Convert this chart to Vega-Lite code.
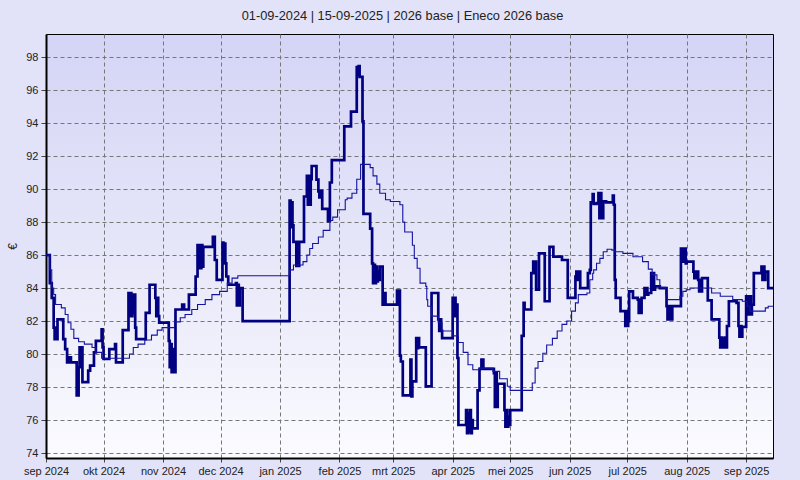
{
  "$schema": "https://vega.github.io/schema/vega-lite/v6.json",
  "width": 727,
  "height": 424,
  "autosize": {"type": "none"},
  "padding": {"left": 46, "top": 34, "right": 27, "bottom": 22},
  "background": "#e2e2f8",
  "title": {
    "text": "01-09-2024 | 15-09-2025 | 2026 base | Eneco 2026 base",
    "font": "Liberation Sans",
    "fontSize": 12.8,
    "fontWeight": "normal",
    "color": "#222222",
    "anchor": "middle",
    "offset": 11,
    "dx": -7
  },
  "datasets": {
    "daily": [
      {"d": "2024-09-01T00:00", "v": 86.0},
      {"d": "2024-09-03T00:00", "v": 84.3},
      {"d": "2024-09-04T00:00", "v": 83.4},
      {"d": "2024-09-05T00:00", "v": 81.6},
      {"d": "2024-09-05T12:00", "v": 80.9},
      {"d": "2024-09-06T00:00", "v": 81.6},
      {"d": "2024-09-06T12:00", "v": 80.9},
      {"d": "2024-09-07T00:00", "v": 82.1},
      {"d": "2024-09-10T00:00", "v": 80.9},
      {"d": "2024-09-11T00:00", "v": 80.3},
      {"d": "2024-09-12T00:00", "v": 79.5},
      {"d": "2024-09-13T00:00", "v": 79.8},
      {"d": "2024-09-14T00:00", "v": 79.5},
      {"d": "2024-09-17T00:00", "v": 77.5},
      {"d": "2024-09-18T00:00", "v": 79.2},
      {"d": "2024-09-18T12:00", "v": 80.4},
      {"d": "2024-09-19T00:00", "v": 79.2},
      {"d": "2024-09-19T12:00", "v": 80.4},
      {"d": "2024-09-20T00:00", "v": 78.3},
      {"d": "2024-09-23T00:00", "v": 79.0},
      {"d": "2024-09-24T00:00", "v": 79.3},
      {"d": "2024-09-26T00:00", "v": 80.1},
      {"d": "2024-09-27T00:00", "v": 80.8},
      {"d": "2024-09-30T00:00", "v": 81.5},
      {"d": "2024-09-30T12:00", "v": 80.4},
      {"d": "2024-10-01T00:00", "v": 79.7},
      {"d": "2024-10-04T00:00", "v": 80.3},
      {"d": "2024-10-07T00:00", "v": 80.6},
      {"d": "2024-10-07T12:00", "v": 79.5},
      {"d": "2024-10-11T00:00", "v": 81.45},
      {"d": "2024-10-14T00:00", "v": 83.7},
      {"d": "2024-10-14T12:00", "v": 82.3},
      {"d": "2024-10-15T00:00", "v": 83.7},
      {"d": "2024-10-15T12:00", "v": 82.3},
      {"d": "2024-10-16T00:00", "v": 83.6},
      {"d": "2024-10-16T12:00", "v": 82.5},
      {"d": "2024-10-17T00:00", "v": 83.6},
      {"d": "2024-10-17T12:00", "v": 81.6},
      {"d": "2024-10-18T00:00", "v": 80.9},
      {"d": "2024-10-23T00:00", "v": 82.5},
      {"d": "2024-10-25T00:00", "v": 84.2},
      {"d": "2024-10-28T00:00", "v": 83.4},
      {"d": "2024-10-28T12:00", "v": 82.3},
      {"d": "2024-10-29T00:00", "v": 83.4},
      {"d": "2024-10-29T12:00", "v": 82.3},
      {"d": "2024-10-30T00:00", "v": 81.9},
      {"d": "2024-11-04T00:00", "v": 80.8},
      {"d": "2024-11-04T12:00", "v": 79.2},
      {"d": "2024-11-05T00:00", "v": 80.6},
      {"d": "2024-11-05T12:00", "v": 78.9},
      {"d": "2024-11-06T00:00", "v": 80.3},
      {"d": "2024-11-06T12:00", "v": 78.9},
      {"d": "2024-11-07T12:00", "v": 82.7},
      {"d": "2024-11-11T00:00", "v": 83.0},
      {"d": "2024-11-12T00:00", "v": 82.7},
      {"d": "2024-11-14T12:00", "v": 83.6},
      {"d": "2024-11-18T00:00", "v": 84.7},
      {"d": "2024-11-19T00:00", "v": 86.6},
      {"d": "2024-11-19T12:00", "v": 85.2},
      {"d": "2024-11-20T00:00", "v": 86.6},
      {"d": "2024-11-20T12:00", "v": 85.2},
      {"d": "2024-11-21T00:00", "v": 86.6},
      {"d": "2024-11-21T12:00", "v": 85.3},
      {"d": "2024-11-22T00:00", "v": 86.5},
      {"d": "2024-11-27T00:00", "v": 87.1},
      {"d": "2024-11-28T00:00", "v": 85.7},
      {"d": "2024-11-29T00:00", "v": 84.5},
      {"d": "2024-12-02T00:00", "v": 86.75},
      {"d": "2024-12-02T12:00", "v": 85.5},
      {"d": "2024-12-03T00:00", "v": 86.7},
      {"d": "2024-12-03T12:00", "v": 85.5},
      {"d": "2024-12-04T00:00", "v": 84.7},
      {"d": "2024-12-05T00:00", "v": 84.2},
      {"d": "2024-12-09T00:00", "v": 84.3},
      {"d": "2024-12-09T12:00", "v": 82.95},
      {"d": "2024-12-10T00:00", "v": 84.2},
      {"d": "2024-12-10T12:00", "v": 82.95},
      {"d": "2024-12-11T00:00", "v": 84.0},
      {"d": "2024-12-12T12:00", "v": 82.0},
      {"d": "2025-01-06T00:00", "v": 89.3},
      {"d": "2025-01-06T12:00", "v": 87.7},
      {"d": "2025-01-07T00:00", "v": 89.2},
      {"d": "2025-01-07T12:00", "v": 87.8},
      {"d": "2025-01-08T00:00", "v": 86.8},
      {"d": "2025-01-09T12:00", "v": 85.35},
      {"d": "2025-01-10T00:00", "v": 86.8},
      {"d": "2025-01-10T12:00", "v": 85.35},
      {"d": "2025-01-11T00:00", "v": 86.8},
      {"d": "2025-01-13T12:00", "v": 89.55},
      {"d": "2025-01-15T00:00", "v": 90.8},
      {"d": "2025-01-15T12:00", "v": 89.05},
      {"d": "2025-01-16T00:00", "v": 90.8},
      {"d": "2025-01-16T12:00", "v": 89.05},
      {"d": "2025-01-17T00:00", "v": 90.6},
      {"d": "2025-01-17T12:00", "v": 91.4},
      {"d": "2025-01-20T00:00", "v": 90.57},
      {"d": "2025-01-21T00:00", "v": 89.86},
      {"d": "2025-01-21T12:00", "v": 89.5},
      {"d": "2025-01-22T00:00", "v": 89.9},
      {"d": "2025-01-23T00:00", "v": 88.8},
      {"d": "2025-01-26T00:00", "v": 88.05},
      {"d": "2025-01-27T00:00", "v": 90.4},
      {"d": "2025-01-28T00:00", "v": 91.75},
      {"d": "2025-02-03T12:00", "v": 93.8},
      {"d": "2025-02-07T00:00", "v": 94.7},
      {"d": "2025-02-10T00:00", "v": 97.4},
      {"d": "2025-02-10T12:00", "v": 96.9},
      {"d": "2025-02-11T00:00", "v": 97.45},
      {"d": "2025-02-11T12:00", "v": 96.8},
      {"d": "2025-02-13T00:00", "v": 94.1},
      {"d": "2025-02-13T12:00", "v": 88.5},
      {"d": "2025-02-17T00:00", "v": 87.6},
      {"d": "2025-02-18T00:00", "v": 85.5},
      {"d": "2025-02-18T12:00", "v": 84.3},
      {"d": "2025-02-19T00:00", "v": 85.4},
      {"d": "2025-02-19T12:00", "v": 84.3},
      {"d": "2025-02-20T00:00", "v": 85.3},
      {"d": "2025-02-20T12:00", "v": 84.4},
      {"d": "2025-02-21T00:00", "v": 85.0},
      {"d": "2025-02-21T12:00", "v": 84.5},
      {"d": "2025-02-22T00:00", "v": 85.3},
      {"d": "2025-02-23T12:00", "v": 83.0},
      {"d": "2025-02-24T12:00", "v": 83.7},
      {"d": "2025-02-25T00:00", "v": 83.0},
      {"d": "2025-03-03T00:00", "v": 83.85},
      {"d": "2025-03-03T12:00", "v": 83.0},
      {"d": "2025-03-04T00:00", "v": 83.85},
      {"d": "2025-03-04T12:00", "v": 79.9},
      {"d": "2025-03-05T00:00", "v": 79.55},
      {"d": "2025-03-06T00:00", "v": 77.5},
      {"d": "2025-03-10T00:00", "v": 79.66},
      {"d": "2025-03-10T12:00", "v": 77.43},
      {"d": "2025-03-11T00:00", "v": 78.34},
      {"d": "2025-03-13T00:00", "v": 80.97},
      {"d": "2025-03-13T12:00", "v": 80.36},
      {"d": "2025-03-14T00:00", "v": 80.97},
      {"d": "2025-03-14T12:00", "v": 80.4},
      {"d": "2025-03-18T00:00", "v": 78.04},
      {"d": "2025-03-21T00:00", "v": 83.7},
      {"d": "2025-03-24T12:00", "v": 82.1},
      {"d": "2025-03-25T00:00", "v": 81.4},
      {"d": "2025-03-25T12:00", "v": 82.1},
      {"d": "2025-03-26T00:00", "v": 81.4},
      {"d": "2025-03-26T12:00", "v": 80.97},
      {"d": "2025-04-01T00:00", "v": 83.4},
      {"d": "2025-04-01T12:00", "v": 82.3},
      {"d": "2025-04-02T00:00", "v": 83.4},
      {"d": "2025-04-02T12:00", "v": 82.3},
      {"d": "2025-04-03T00:00", "v": 83.0},
      {"d": "2025-04-03T12:00", "v": 79.76},
      {"d": "2025-04-04T00:00", "v": 75.7},
      {"d": "2025-04-08T00:00", "v": 76.6},
      {"d": "2025-04-08T12:00", "v": 75.2},
      {"d": "2025-04-09T00:00", "v": 76.4},
      {"d": "2025-04-09T12:00", "v": 75.3},
      {"d": "2025-04-10T00:00", "v": 76.6},
      {"d": "2025-04-10T12:00", "v": 75.2},
      {"d": "2025-04-11T00:00", "v": 76.0},
      {"d": "2025-04-11T12:00", "v": 75.5},
      {"d": "2025-04-14T00:00", "v": 77.8},
      {"d": "2025-04-15T00:00", "v": 79.1},
      {"d": "2025-04-16T00:00", "v": 79.66},
      {"d": "2025-04-17T00:00", "v": 79.1},
      {"d": "2025-04-22T12:00", "v": 78.85},
      {"d": "2025-04-23T00:00", "v": 76.8},
      {"d": "2025-04-23T12:00", "v": 78.85},
      {"d": "2025-04-24T00:00", "v": 76.8},
      {"d": "2025-04-24T12:00", "v": 78.2},
      {"d": "2025-04-28T00:00", "v": 76.6},
      {"d": "2025-04-28T12:00", "v": 75.6},
      {"d": "2025-04-29T00:00", "v": 76.6},
      {"d": "2025-04-29T12:00", "v": 75.6},
      {"d": "2025-04-30T00:00", "v": 76.2},
      {"d": "2025-04-30T12:00", "v": 75.7},
      {"d": "2025-05-01T00:00", "v": 76.6},
      {"d": "2025-05-07T00:00", "v": 81.1},
      {"d": "2025-05-08T00:00", "v": 83.1},
      {"d": "2025-05-08T12:00", "v": 82.7},
      {"d": "2025-05-12T00:00", "v": 84.9},
      {"d": "2025-05-13T00:00", "v": 85.6},
      {"d": "2025-05-13T12:00", "v": 84.9},
      {"d": "2025-05-14T00:00", "v": 85.6},
      {"d": "2025-05-14T12:00", "v": 83.9},
      {"d": "2025-05-16T00:00", "v": 86.1},
      {"d": "2025-05-19T00:00", "v": 83.2},
      {"d": "2025-05-21T12:00", "v": 86.5},
      {"d": "2025-05-23T12:00", "v": 85.9},
      {"d": "2025-05-28T00:00", "v": 85.7},
      {"d": "2025-05-31T00:00", "v": 83.4},
      {"d": "2025-06-04T00:00", "v": 84.7},
      {"d": "2025-06-04T12:00", "v": 85.0},
      {"d": "2025-06-05T00:00", "v": 84.5},
      {"d": "2025-06-05T12:00", "v": 85.0},
      {"d": "2025-06-06T12:00", "v": 84.0},
      {"d": "2025-06-10T12:00", "v": 84.9},
      {"d": "2025-06-11T12:00", "v": 85.1},
      {"d": "2025-06-12T00:00", "v": 89.2},
      {"d": "2025-06-13T00:00", "v": 89.7},
      {"d": "2025-06-13T12:00", "v": 89.1},
      {"d": "2025-06-15T00:00", "v": 89.15},
      {"d": "2025-06-16T00:00", "v": 89.76},
      {"d": "2025-06-16T12:00", "v": 88.24},
      {"d": "2025-06-17T00:00", "v": 89.76},
      {"d": "2025-06-17T12:00", "v": 88.24},
      {"d": "2025-06-18T12:00", "v": 89.25},
      {"d": "2025-06-20T00:00", "v": 89.2},
      {"d": "2025-06-23T12:00", "v": 89.6},
      {"d": "2025-06-24T00:00", "v": 89.05},
      {"d": "2025-06-24T12:00", "v": 84.5},
      {"d": "2025-06-25T00:00", "v": 83.4},
      {"d": "2025-06-27T12:00", "v": 82.6},
      {"d": "2025-06-30T00:00", "v": 81.7},
      {"d": "2025-06-30T12:00", "v": 82.6},
      {"d": "2025-07-01T00:00", "v": 81.7},
      {"d": "2025-07-01T12:00", "v": 82.0},
      {"d": "2025-07-02T00:00", "v": 83.8},
      {"d": "2025-07-04T00:00", "v": 83.4},
      {"d": "2025-07-06T12:00", "v": 83.3},
      {"d": "2025-07-07T00:00", "v": 82.5},
      {"d": "2025-07-07T12:00", "v": 83.3},
      {"d": "2025-07-08T00:00", "v": 82.5},
      {"d": "2025-07-08T12:00", "v": 83.4},
      {"d": "2025-07-10T00:00", "v": 84.0},
      {"d": "2025-07-10T12:00", "v": 83.6},
      {"d": "2025-07-11T00:00", "v": 84.0},
      {"d": "2025-07-11T12:00", "v": 83.6},
      {"d": "2025-07-12T00:00", "v": 83.7},
      {"d": "2025-07-13T12:00", "v": 84.9},
      {"d": "2025-07-14T00:00", "v": 83.9},
      {"d": "2025-07-14T12:00", "v": 84.9},
      {"d": "2025-07-15T00:00", "v": 83.9},
      {"d": "2025-07-15T12:00", "v": 84.1},
      {"d": "2025-07-18T00:00", "v": 84.0},
      {"d": "2025-07-21T12:00", "v": 82.9},
      {"d": "2025-07-22T00:00", "v": 82.1},
      {"d": "2025-07-22T12:00", "v": 82.9},
      {"d": "2025-07-23T00:00", "v": 82.1},
      {"d": "2025-07-23T12:00", "v": 82.9},
      {"d": "2025-07-24T00:00", "v": 82.1},
      {"d": "2025-07-24T12:00", "v": 82.9},
      {"d": "2025-07-29T00:00", "v": 86.4},
      {"d": "2025-07-29T12:00", "v": 85.6},
      {"d": "2025-07-30T00:00", "v": 86.4},
      {"d": "2025-07-30T12:00", "v": 85.6},
      {"d": "2025-07-31T00:00", "v": 86.4},
      {"d": "2025-07-31T12:00", "v": 85.5},
      {"d": "2025-08-01T00:00", "v": 85.6},
      {"d": "2025-08-04T12:00", "v": 85.0},
      {"d": "2025-08-05T00:00", "v": 84.6},
      {"d": "2025-08-05T12:00", "v": 85.0},
      {"d": "2025-08-06T00:00", "v": 84.6},
      {"d": "2025-08-06T12:00", "v": 85.0},
      {"d": "2025-08-07T00:00", "v": 84.5},
      {"d": "2025-08-07T12:00", "v": 83.8},
      {"d": "2025-08-08T00:00", "v": 84.5},
      {"d": "2025-08-08T12:00", "v": 83.8},
      {"d": "2025-08-09T00:00", "v": 84.6},
      {"d": "2025-08-12T00:00", "v": 83.25},
      {"d": "2025-08-14T00:00", "v": 82.1},
      {"d": "2025-08-18T00:00", "v": 81.0},
      {"d": "2025-08-18T12:00", "v": 80.4},
      {"d": "2025-08-19T00:00", "v": 81.0},
      {"d": "2025-08-19T12:00", "v": 80.4},
      {"d": "2025-08-20T00:00", "v": 80.9},
      {"d": "2025-08-20T12:00", "v": 80.4},
      {"d": "2025-08-21T00:00", "v": 81.0},
      {"d": "2025-08-21T12:00", "v": 80.4},
      {"d": "2025-08-22T00:00", "v": 81.7},
      {"d": "2025-08-23T00:00", "v": 83.2},
      {"d": "2025-08-27T00:00", "v": 83.1},
      {"d": "2025-08-28T00:00", "v": 81.7},
      {"d": "2025-08-28T12:00", "v": 81.05},
      {"d": "2025-08-29T00:00", "v": 81.7},
      {"d": "2025-08-29T12:00", "v": 81.05},
      {"d": "2025-08-30T00:00", "v": 81.65},
      {"d": "2025-09-01T00:00", "v": 83.5},
      {"d": "2025-09-01T12:00", "v": 82.4},
      {"d": "2025-09-02T00:00", "v": 83.5},
      {"d": "2025-09-02T12:00", "v": 82.4},
      {"d": "2025-09-03T00:00", "v": 83.5},
      {"d": "2025-09-03T12:00", "v": 82.4},
      {"d": "2025-09-04T00:00", "v": 83.0},
      {"d": "2025-09-05T00:00", "v": 84.9},
      {"d": "2025-09-09T00:00", "v": 85.3},
      {"d": "2025-09-09T12:00", "v": 84.5},
      {"d": "2025-09-10T00:00", "v": 85.3},
      {"d": "2025-09-10T12:00", "v": 84.5},
      {"d": "2025-09-11T00:00", "v": 85.0},
      {"d": "2025-09-12T12:00", "v": 84.0},
      {"d": "2025-09-15T00:00", "v": 84.0}
    ],
    "avg": [
      {"d": "2024-09-01T00:00", "v": 86.0},
      {"d": "2024-09-03T00:00", "v": 85.1},
      {"d": "2024-09-04T00:00", "v": 84.0},
      {"d": "2024-09-05T00:00", "v": 83.6},
      {"d": "2024-09-06T00:00", "v": 83.0},
      {"d": "2024-09-09T00:00", "v": 82.8},
      {"d": "2024-09-11T00:00", "v": 82.4},
      {"d": "2024-09-12T12:00", "v": 81.9},
      {"d": "2024-09-14T00:00", "v": 81.5},
      {"d": "2024-09-15T12:00", "v": 80.95},
      {"d": "2024-09-18T00:00", "v": 80.75},
      {"d": "2024-09-21T00:00", "v": 80.6},
      {"d": "2024-09-25T00:00", "v": 80.4},
      {"d": "2024-09-27T00:00", "v": 80.1},
      {"d": "2024-09-30T00:00", "v": 79.75},
      {"d": "2024-10-14T12:00", "v": 80.0},
      {"d": "2024-10-16T12:00", "v": 80.4},
      {"d": "2024-10-19T00:00", "v": 80.6},
      {"d": "2024-10-22T12:00", "v": 80.85},
      {"d": "2024-10-26T00:00", "v": 81.15},
      {"d": "2024-10-29T00:00", "v": 81.45},
      {"d": "2024-10-31T12:00", "v": 81.6},
      {"d": "2024-11-07T00:00", "v": 81.95},
      {"d": "2024-11-10T00:00", "v": 82.2},
      {"d": "2024-11-12T12:00", "v": 82.4},
      {"d": "2024-11-16T00:00", "v": 82.7},
      {"d": "2024-11-19T00:00", "v": 83.0},
      {"d": "2024-11-23T00:00", "v": 83.3},
      {"d": "2024-11-26T12:00", "v": 83.6},
      {"d": "2024-11-30T12:00", "v": 83.8},
      {"d": "2024-12-04T12:00", "v": 84.3},
      {"d": "2024-12-07T00:00", "v": 84.6},
      {"d": "2024-12-10T00:00", "v": 84.75},
      {"d": "2025-01-06T00:00", "v": 85.1},
      {"d": "2025-01-08T00:00", "v": 85.4},
      {"d": "2025-01-13T00:00", "v": 85.6},
      {"d": "2025-01-15T00:00", "v": 86.0},
      {"d": "2025-01-16T12:00", "v": 86.4},
      {"d": "2025-01-18T00:00", "v": 86.7},
      {"d": "2025-01-21T00:00", "v": 87.1},
      {"d": "2025-01-23T12:00", "v": 87.5},
      {"d": "2025-01-27T00:00", "v": 88.1},
      {"d": "2025-01-28T12:00", "v": 88.3},
      {"d": "2025-01-31T00:00", "v": 88.75},
      {"d": "2025-02-04T00:00", "v": 89.35},
      {"d": "2025-02-05T00:00", "v": 89.45},
      {"d": "2025-02-07T12:00", "v": 89.75},
      {"d": "2025-02-10T00:00", "v": 90.6},
      {"d": "2025-02-12T00:00", "v": 91.5},
      {"d": "2025-02-17T00:00", "v": 91.3},
      {"d": "2025-02-18T12:00", "v": 90.8},
      {"d": "2025-02-20T12:00", "v": 90.3},
      {"d": "2025-02-22T00:00", "v": 89.75},
      {"d": "2025-02-25T00:00", "v": 89.35},
      {"d": "2025-02-27T12:00", "v": 89.25},
      {"d": "2025-03-04T12:00", "v": 89.05},
      {"d": "2025-03-06T00:00", "v": 88.0},
      {"d": "2025-03-07T00:00", "v": 87.4},
      {"d": "2025-03-11T00:00", "v": 86.6},
      {"d": "2025-03-12T00:00", "v": 85.8},
      {"d": "2025-03-13T12:00", "v": 85.2},
      {"d": "2025-03-15T00:00", "v": 84.3},
      {"d": "2025-03-18T00:00", "v": 84.1},
      {"d": "2025-03-18T12:00", "v": 83.3},
      {"d": "2025-03-19T00:00", "v": 82.9},
      {"d": "2025-03-21T00:00", "v": 82.3},
      {"d": "2025-03-24T12:00", "v": 81.9},
      {"d": "2025-03-26T12:00", "v": 81.4},
      {"d": "2025-04-01T00:00", "v": 81.1},
      {"d": "2025-04-04T00:00", "v": 80.7},
      {"d": "2025-04-06T12:00", "v": 80.1},
      {"d": "2025-04-09T00:00", "v": 79.35},
      {"d": "2025-04-11T12:00", "v": 79.05},
      {"d": "2025-04-15T00:00", "v": 79.15},
      {"d": "2025-04-22T00:00", "v": 78.95},
      {"d": "2025-04-25T12:00", "v": 78.5},
      {"d": "2025-04-29T12:00", "v": 78.05},
      {"d": "2025-05-01T00:00", "v": 77.8},
      {"d": "2025-05-12T12:00", "v": 78.25},
      {"d": "2025-05-14T00:00", "v": 79.15},
      {"d": "2025-05-15T12:00", "v": 79.55},
      {"d": "2025-05-18T00:00", "v": 80.05},
      {"d": "2025-05-20T00:00", "v": 80.55},
      {"d": "2025-05-23T00:00", "v": 80.95},
      {"d": "2025-05-25T12:00", "v": 81.4},
      {"d": "2025-05-28T00:00", "v": 81.8},
      {"d": "2025-05-30T12:00", "v": 82.0},
      {"d": "2025-06-02T00:00", "v": 82.6},
      {"d": "2025-06-04T00:00", "v": 83.1},
      {"d": "2025-06-05T12:00", "v": 83.6},
      {"d": "2025-06-10T00:00", "v": 83.7},
      {"d": "2025-06-11T12:00", "v": 84.5},
      {"d": "2025-06-13T00:00", "v": 84.9},
      {"d": "2025-06-13T12:00", "v": 85.1},
      {"d": "2025-06-15T00:00", "v": 85.5},
      {"d": "2025-06-16T18:00", "v": 85.8},
      {"d": "2025-06-18T12:00", "v": 86.2},
      {"d": "2025-06-20T12:00", "v": 86.35},
      {"d": "2025-06-23T00:00", "v": 86.3},
      {"d": "2025-06-24T18:00", "v": 86.2},
      {"d": "2025-06-28T18:00", "v": 86.1},
      {"d": "2025-07-04T00:00", "v": 85.9},
      {"d": "2025-07-09T00:00", "v": 85.6},
      {"d": "2025-07-12T00:00", "v": 85.15},
      {"d": "2025-07-14T00:00", "v": 84.8},
      {"d": "2025-07-16T12:00", "v": 84.5},
      {"d": "2025-07-18T00:00", "v": 84.05},
      {"d": "2025-07-21T00:00", "v": 83.6},
      {"d": "2025-07-22T00:00", "v": 83.3},
      {"d": "2025-07-28T12:00", "v": 83.5},
      {"d": "2025-07-30T00:00", "v": 83.8},
      {"d": "2025-07-31T18:00", "v": 83.9},
      {"d": "2025-08-02T18:00", "v": 84.0},
      {"d": "2025-08-14T00:00", "v": 83.7},
      {"d": "2025-08-18T12:00", "v": 83.5},
      {"d": "2025-08-25T00:00", "v": 83.3},
      {"d": "2025-08-30T00:00", "v": 83.2},
      {"d": "2025-09-01T12:00", "v": 82.9},
      {"d": "2025-09-03T00:00", "v": 82.6},
      {"d": "2025-09-11T00:00", "v": 82.8},
      {"d": "2025-09-12T12:00", "v": 82.9},
      {"d": "2025-09-15T00:00", "v": 82.9}
    ]
  },
  "encoding": {
    "x": {
      "field": "d",
      "type": "temporal",
      "title": null,
      "scale": {
        "domain": [
          {"year": 2024, "month": 9, "date": 1},
          {"year": 2025, "month": 9, "date": 15}
        ],
        "nice": false
      },
      "axis": {
        "tickCount": {"interval": "month", "step": 1},
        "labelExpr": "['jan','feb','mrt','apr','mei','jun','jul','aug','sep','okt','nov','dec'][month(datum.value)] + ' ' + year(datum.value)",
        "labelOverlap": false,
        "labelFlush": false,
        "tickSize": 4,
        "labelPadding": 3
      }
    },
    "y": {
      "field": "v",
      "type": "quantitative",
      "title": "€",
      "scale": {"domain": [73.7, 99.4], "nice": false, "zero": false},
      "axis": {
        "values": [74, 76, 78, 80, 82, 84, 86, 88, 90, 92, 94, 96, 98],
        "tickSize": 5,
        "labelPadding": 3,
        "titlePadding": 6
      }
    }
  },
  "layer": [
    {
      "data": {"name": "daily"},
      "mark": {"type": "line", "interpolate": "step-after", "color": "#000080", "strokeWidth": 2.7, "clip": true}
    },
    {
      "data": {"name": "avg"},
      "mark": {"type": "line", "interpolate": "step-after", "color": "#1414a0", "strokeWidth": 1.1, "clip": true}
    }
  ],
  "config": {
    "view": {
      "stroke": "#000000",
      "strokeWidth": 1,
      "fill": {
        "gradient": "linear",
        "x1": 0, "y1": 0, "x2": 0, "y2": 1,
        "stops": [
          {"offset": 0, "color": "#d4d4f6"},
          {"offset": 0.5, "color": "#e6e6f9"},
          {"offset": 1, "color": "#fbfbff"}
        ]
      }
    },
    "axis": {
      "domainColor": "#000000",
      "domainWidth": 2,
      "grid": true,
      "gridColor": "#777777",
      "gridDash": [4, 3],
      "gridWidth": 1,
      "tickColor": "#444444",
      "labelFont": "Liberation Sans",
      "labelFontSize": 11,
      "labelColor": "#222222",
      "titleFont": "Liberation Sans",
      "titleFontSize": 12,
      "titleFontWeight": "normal",
      "titleColor": "#222222"
    }
  }
}
